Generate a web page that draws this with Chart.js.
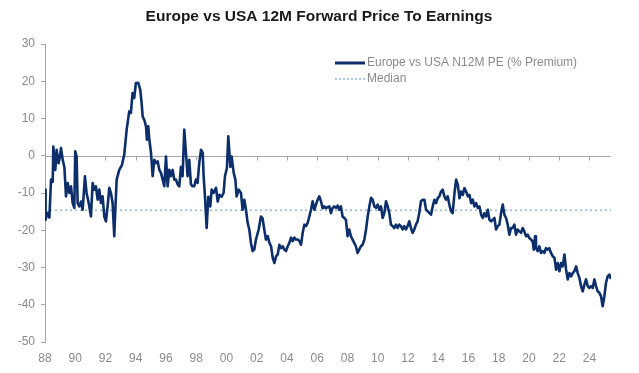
<!DOCTYPE html>
<html>
<head>
<meta charset="utf-8">
<script src="https://cdn.jsdelivr.net/npm/chart.js@4.4.1/dist/chart.umd.min.js"></script>
<style>
  body { margin: 0; background: #fff; }
  #wrap { width: 639px; height: 373px; position: relative; }
</style>
</head>
<body>
<div id="wrap"><canvas id="grafico"></canvas></div>
<script>
// lectura del grafico: fecha (años decimales) y prima Europa vs USA (%)
const years = [
  1988.00, 1988.04, 1988.11, 1988.18, 1988.29, 1988.40, 1988.51, 1988.55, 1988.68, 1988.77, 1988.90, 1988.99,
  1989.06, 1989.17, 1989.28, 1989.39, 1989.50, 1989.61, 1989.72, 1989.83, 1989.94, 1990.00, 1990.09, 1990.16,
  1990.27, 1990.38, 1990.49, 1990.64, 1990.75, 1990.89, 1991.04, 1991.15, 1991.26, 1991.37, 1991.48, 1991.59,
  1991.70, 1991.81, 1991.92, 1992.03, 1992.14, 1992.25, 1992.36, 1992.47, 1992.58, 1992.65, 1992.74, 1992.91,
  1993.09, 1993.24, 1993.40, 1993.57, 1993.68, 1993.79, 1993.90, 1994.01, 1994.17, 1994.30, 1994.39, 1994.46,
  1994.57, 1994.68, 1994.74, 1994.83, 1994.90, 1995.01, 1995.12, 1995.23, 1995.34, 1995.45, 1995.56, 1995.67,
  1995.78, 1995.89, 1996.00, 1996.11, 1996.22, 1996.33, 1996.44, 1996.55, 1996.66, 1996.77, 1996.88, 1996.99,
  1997.10, 1997.21, 1997.32, 1997.43, 1997.54, 1997.65, 1997.76, 1997.87, 1997.98, 1998.09, 1998.20, 1998.32,
  1998.43, 1998.49, 1998.58, 1998.69, 1998.80, 1998.93, 1999.02, 1999.15, 1999.31, 1999.42, 1999.53, 1999.68,
  1999.81, 1999.90, 2000.03, 2000.12, 2000.26, 2000.34, 2000.48, 2000.59, 2000.67, 2000.81, 2000.96, 2001.07,
  2001.18, 2001.29, 2001.40, 2001.51, 2001.62, 2001.73, 2001.84, 2001.95, 2002.13, 2002.28, 2002.39, 2002.50,
  2002.61, 2002.73, 2002.84, 2002.95, 2003.06, 2003.17, 2003.28, 2003.39, 2003.50, 2003.61, 2003.72, 2003.83,
  2003.94, 2004.05, 2004.16, 2004.27, 2004.38, 2004.49, 2004.60, 2004.71, 2004.82, 2004.93, 2005.04, 2005.15,
  2005.26, 2005.37, 2005.48, 2005.59, 2005.70, 2005.81, 2005.92, 2006.03, 2006.14, 2006.25, 2006.36, 2006.47,
  2006.58, 2006.69, 2006.80, 2006.91, 2007.02, 2007.13, 2007.24, 2007.35, 2007.46, 2007.57, 2007.68, 2007.79,
  2007.90, 2008.01, 2008.12, 2008.23, 2008.34, 2008.45, 2008.56, 2008.67, 2008.78, 2008.89, 2009.00, 2009.12,
  2009.23, 2009.34, 2009.45, 2009.56, 2009.67, 2009.78, 2009.89, 2010.00, 2010.11, 2010.22, 2010.33, 2010.44,
  2010.55, 2010.66, 2010.77, 2010.88, 2010.99, 2011.10, 2011.21, 2011.32, 2011.43, 2011.54, 2011.65, 2011.76,
  2011.87, 2011.98, 2012.09, 2012.20, 2012.31, 2012.42, 2012.53, 2012.64, 2012.75, 2012.86, 2012.98, 2013.09,
  2013.20, 2013.31, 2013.42, 2013.53, 2013.64, 2013.75, 2013.86, 2013.97, 2014.08, 2014.19, 2014.30, 2014.41,
  2014.52, 2014.63, 2014.74, 2014.85, 2014.96, 2015.08, 2015.19, 2015.30, 2015.41, 2015.52, 2015.63, 2015.74,
  2015.85, 2015.96, 2016.07, 2016.18, 2016.29, 2016.40, 2016.51, 2016.62, 2016.73, 2016.84, 2016.95, 2017.06,
  2017.17, 2017.28, 2017.39, 2017.50, 2017.61, 2017.72, 2017.83, 2017.94, 2018.05, 2018.16, 2018.27, 2018.38,
  2018.49, 2018.60, 2018.71, 2018.82, 2018.93, 2019.04, 2019.15, 2019.26, 2019.37, 2019.48, 2019.59, 2019.70,
  2019.81, 2019.92, 2020.03, 2020.14, 2020.25, 2020.32, 2020.41, 2020.47, 2020.58, 2020.69, 2020.80, 2020.91,
  2021.02, 2021.13, 2021.24, 2021.35, 2021.46, 2021.58, 2021.69, 2021.80, 2021.91, 2022.02, 2022.13, 2022.24,
  2022.35, 2022.46, 2022.57, 2022.68, 2022.79, 2022.90, 2023.01, 2023.12, 2023.23, 2023.34, 2023.45, 2023.56,
  2023.67, 2023.78, 2023.89, 2024.00, 2024.11, 2024.22, 2024.33, 2024.44, 2024.55, 2024.66, 2024.77, 2024.88,
  2024.99, 2025.10, 2025.21, 2025.32, 2025.43
];
const premium = [
  -9.1, -17.2, -16.0, -15.3, -16.6, -6.4, -7.0, 2.5, -3.8, 1.6, -2.0, -0.2,
  2.1, -1.1, -3.0, -10.9, -7.3, -10.0, -8.2, -12.7, -14.0, 1.2, -0.2, -12.7,
  -13.6, -12.3, -14.5, -5.5, -10.0, -12.7, -16.3, -7.3, -9.1, -8.2, -11.8, -9.1,
  -12.7, -10.9, -16.3, -17.6, -13.6, -8.6, -10.0, -12.7, -21.6, -14.5, -6.4, -3.8,
  -2.5, 0.3, 7.0, 11.9, 11.5, 16.8, 15.5, 19.5, 19.6, 17.7, 14.1, 10.5,
  9.6, 7.9, 4.3, 7.9, 4.3, 0.8, -5.5, -1.1, -2.0, -1.5, -3.8, -4.6,
  -6.4, -8.2, -0.2, -8.2, -3.8, -5.5, -3.8, -6.4, -6.4, -7.7, -8.2, -3.0,
  -5.5, 7.0, 0.8, -5.5, -1.1, -7.7, -8.2, -8.2, -6.4, -7.3, -2.0, 1.6,
  0.8, -5.5, -11.0, -19.4, -11.0, -13.6, -9.1, -10.0, -8.6, -12.3, -10.5, -11.0,
  -10.0, -5.5, -3.3, 5.2, -3.0, -0.2, -4.6, -6.4, -10.9, -9.1, -10.0, -14.5,
  -11.8, -14.5, -18.0, -19.8, -23.4, -25.6, -25.2, -22.5, -19.8, -16.3, -16.8, -19.8,
  -22.5, -21.6, -23.4, -24.3, -27.4, -28.8, -27.0, -26.5, -23.9, -24.8, -24.3, -25.2,
  -25.6, -24.3, -23.4, -22.0, -22.9, -22.0, -22.5, -22.5, -22.9, -23.9, -20.7, -18.5,
  -18.9, -18.0, -16.3, -14.5, -12.2, -14.5, -13.1, -11.8, -10.9, -12.2, -14.1, -13.6,
  -14.1, -13.8, -13.6, -15.4, -14.0, -13.6, -14.0, -13.4, -14.5, -13.6, -16.3, -16.7,
  -17.2, -21.6, -19.8, -21.6, -22.5, -23.4, -24.3, -26.1, -25.2, -24.3, -23.9, -22.5,
  -19.8, -16.3, -13.6, -11.3, -11.8, -13.6, -14.0, -13.1, -14.5, -13.6, -16.7, -15.4,
  -12.2, -13.6, -15.4, -18.5, -18.9, -19.4, -18.5, -19.4, -18.5, -18.9, -19.8, -18.9,
  -19.8, -18.9, -17.6, -19.4, -20.7, -19.8, -18.5, -17.6, -15.4, -12.2, -11.8, -11.8,
  -14.5, -14.9, -15.4, -15.8, -13.6, -11.8, -12.7, -11.4, -10.9, -9.6, -9.1, -10.9,
  -11.8, -10.9, -13.1, -14.9, -15.4, -10.0, -6.4, -7.8, -11.4, -9.6, -10.5, -8.7,
  -9.6, -10.9, -10.5, -12.7, -11.8, -13.6, -12.7, -14.0, -13.6, -15.8, -16.7, -15.4,
  -16.3, -14.5, -17.2, -17.6, -17.2, -16.7, -19.8, -18.9, -18.5, -15.4, -13.1, -15.8,
  -16.7, -18.5, -21.2, -19.4, -19.4, -18.5, -21.2, -19.8, -20.3, -20.7, -19.4, -20.3,
  -21.6, -21.2, -22.1, -22.5, -23.0, -25.2, -21.6, -24.8, -25.6, -24.3, -26.1, -25.6,
  -26.1, -24.8, -25.2, -24.8, -26.1, -27.0, -27.4, -30.6, -28.8, -31.0, -28.8, -29.7,
  -26.5, -30.6, -33.2, -31.5, -32.4, -31.5, -31.0, -29.7, -31.5, -32.8, -35.0, -36.4,
  -34.6, -33.2, -35.0, -35.5, -35.0, -35.5, -33.2, -35.0, -36.4, -36.8, -37.7, -40.4,
  -37.7, -34.1, -32.4, -31.9, -33.1
];
const medianValue = -14.6;
const xTickYears = [1988, 1990, 1992, 1994, 1996, 1998, 2000, 2002, 2004, 2006, 2008, 2010, 2012, 2014, 2016, 2018, 2020, 2022, 2024];
const yTicks = [30, 20, 10, 0, -10, -20, -30, -40, -50];
const titulo = 'Europe vs USA 12M Forward Price To Earnings';
const etiquetas = ['Europe vs USA N12M PE (% Premium)', 'Median'];

const azul = '#0c2f6b';
const celeste = '#8fb8e6';
const gris = '#a6a6a6';
const textoGris = '#8a8a8a';

const serie = years.map((y, i) => ({ x: y, y: premium[i] }));
const linMediana = [{ x: years[0], y: medianValue }, { x: years[years.length - 1], y: medianValue }];

// eje del cero con sus marcas
const ejeCero = {
  id: 'ejeCero',
  beforeDatasetsDraw(chart) {
    const ctx = chart.ctx;
    const a = chart.chartArea;
    const yc = Math.round(chart.scales.y.getPixelForValue(0)) + 0.5;
    ctx.save();
    ctx.strokeStyle = gris;
    ctx.lineWidth = 1;
    ctx.beginPath();
    ctx.moveTo(a.left, yc);
    ctx.lineTo(a.right, yc);
    xTickYears.forEach(t => {
      const px = Math.round(chart.scales.x.getPixelForValue(t)) + 0.5;
      ctx.moveTo(px, yc);
      ctx.lineTo(px, yc + 4);
    });
    ctx.stroke();
    ctx.restore();
  }
};

// titulo y leyenda dibujados a mano
const rotulos = {
  id: 'rotulos',
  afterDraw(chart) {
    const ctx = chart.ctx;
    ctx.save();
    ctx.font = 'bold 15.5px "Liberation Sans", Arial, sans-serif';
    ctx.fillStyle = '#1a1a1a';
    ctx.textAlign = 'center';
    ctx.textBaseline = 'middle';
    ctx.fillText(titulo, 319, 17);

    ctx.textAlign = 'left';
    ctx.font = '12px "Liberation Sans", Arial, sans-serif';
    ctx.fillStyle = textoGris;
    ctx.strokeStyle = azul;
    ctx.lineWidth = 3;
    ctx.beginPath();
    ctx.moveTo(335, 63);
    ctx.lineTo(365, 63);
    ctx.stroke();
    ctx.fillText(etiquetas[0], 367, 63);
    ctx.strokeStyle = celeste;
    ctx.lineWidth = 1.5;
    ctx.setLineDash([2, 2]);
    ctx.beginPath();
    ctx.moveTo(335, 79);
    ctx.lineTo(365, 79);
    ctx.stroke();
    ctx.fillText(etiquetas[1], 367, 79);
    ctx.restore();
  }
};

const fuente = { family: '"Liberation Sans", Arial, sans-serif', size: 12 };

new Chart(document.getElementById('grafico'), {
  type: 'line',
  data: {
    datasets: [
      {
        label: etiquetas[0],
        data: serie,
        borderColor: azul,
        borderWidth: 2.6,
        pointRadius: 0,
        tension: 0,
        borderJoinStyle: 'round'
      },
      {
        label: etiquetas[1],
        data: linMediana,
        borderColor: celeste,
        borderWidth: 1.5,
        borderDash: [2, 3],
        pointRadius: 0
      }
    ]
  },
  options: {
    responsive: true,
    maintainAspectRatio: false,
    animation: false,
    layout: { padding: { left: 0, right: 28, top: 44, bottom: 6 } },
    plugins: {
      legend: { display: false },
      tooltip: { enabled: false },
      title: { display: false }
    },
    scales: {
      x: {
        type: 'linear',
        min: 1988,
        max: 2025.43,
        grid: { display: false },
        border: { display: false },
        afterBuildTicks: s => { s.ticks = xTickYears.map(v => ({ value: v })); },
        afterFit: s => { s.height = 25; },
        ticks: {
          color: textoGris,
          font: fuente,
          padding: 1,
          maxRotation: 0,
          autoSkip: false,
          callback: v => String(v).slice(2)
        }
      },
      y: {
        min: -50,
        max: 30,
        afterBuildTicks: s => { s.ticks = yTicks.map(v => ({ value: v })); },
        afterFit: s => { s.width = 45; },
        grid: { drawOnChartArea: false, drawTicks: true, tickLength: 4, color: gris },
        border: { display: true, color: gris },
        ticks: { color: textoGris, font: fuente, padding: 6 }
      }
    }
  },
  plugins: [ejeCero, rotulos]
});
</script>
</body>
</html>
